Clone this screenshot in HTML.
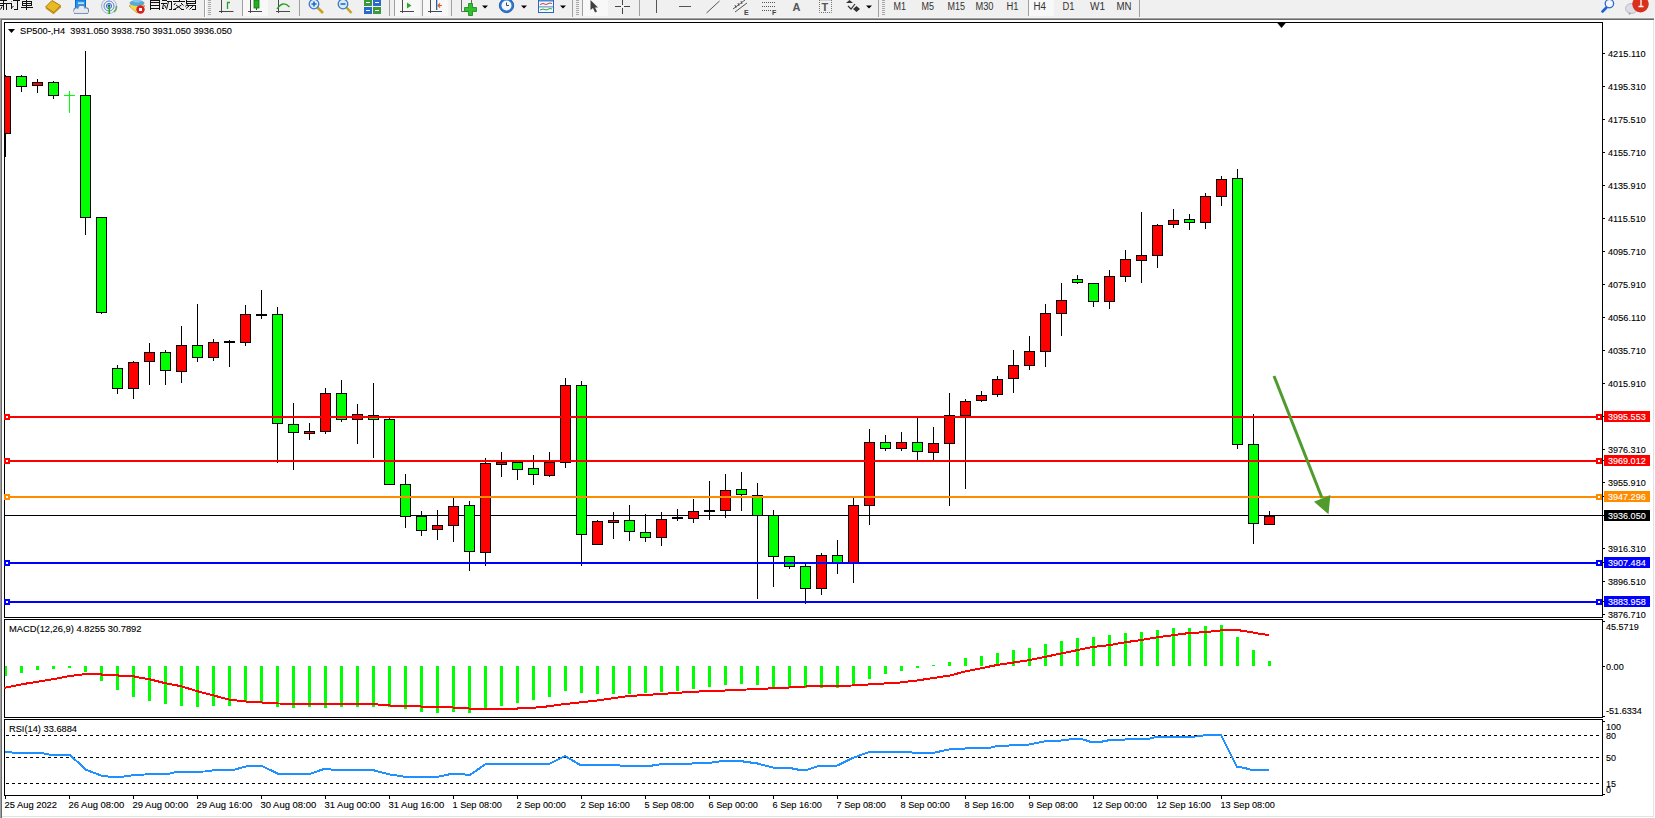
<!DOCTYPE html><html><head><meta charset="utf-8"><style>html,body{margin:0;padding:0;width:1655px;height:818px;overflow:hidden;background:#fff}svg{display:block}text{font-family:"Liberation Sans",sans-serif;font-size:10px}</style></head><body>
<svg width="1655" height="818" viewBox="0 0 1655 818">
<rect x="0" y="0" width="1655" height="18" fill="#F0F0F0"/>
<rect x="0" y="17" width="1655" height="1" fill="#F4F4F4"/>
<rect x="0" y="18" width="1654" height="1" fill="#A0A0A0"/>
<rect x="0" y="19" width="1654" height="1" fill="#696969"/>
<rect x="0" y="18" width="1" height="800" fill="#A0A0A0"/>
<rect x="1" y="19" width="1" height="799" fill="#696969"/>
<rect x="1653" y="20" width="1" height="797" fill="#E3E3E3"/>
<rect x="2" y="816" width="1652" height="1" fill="#E3E3E3"/>
<g id="toolbar">
<!-- chinese text approximations -->
<g fill="#111" shape-rendering="crispEdges">
<rect x="0" y="0" width="7" height="1"/><rect x="0" y="3" width="12" height="1"/><rect x="0" y="5" width="3" height="1"/>
<rect x="3" y="1" width="1" height="9"/><rect x="6" y="4" width="1" height="6"/><rect x="11" y="3" width="1" height="6"/>
<rect x="13" y="0" width="7" height="1"/><rect x="17" y="1" width="1" height="9"/><rect x="14" y="9" width="3" height="1"/>
<rect x="22" y="1" width="10" height="1"/><rect x="22" y="3" width="10" height="1"/><rect x="22" y="5" width="10" height="1"/>
<rect x="22" y="1" width="1" height="5"/><rect x="31" y="1" width="1" height="5"/><rect x="26" y="0" width="1" height="10"/>
<rect x="21" y="7" width="12" height="1"/>
<rect x="150" y="0" width="1" height="10"/><rect x="159" y="0" width="1" height="10"/>
<rect x="151" y="0" width="8" height="1"/><rect x="151" y="2" width="8" height="1"/><rect x="151" y="5" width="8" height="1"/><rect x="151" y="8" width="8" height="1"/>
<rect x="162" y="0" width="5" height="1"/><rect x="161" y="3" width="6" height="1"/><rect x="162" y="8" width="2" height="1"/>
<rect x="167" y="1" width="5" height="1"/><rect x="171" y="1" width="1" height="9"/><rect x="169" y="9" width="2" height="1"/>
<rect x="173" y="1" width="12" height="1"/><rect x="179" y="0" width="1" height="1"/><rect x="173" y="9" width="3" height="1"/><rect x="181" y="9" width="3" height="1"/>
<rect x="186" y="0" width="1" height="4"/><rect x="195" y="0" width="1" height="4"/><rect x="187" y="1" width="8" height="1"/><rect x="187" y="3" width="8" height="1"/>
<rect x="187" y="5" width="9" height="1"/><rect x="195" y="5" width="1" height="5"/><rect x="192" y="9" width="3" height="1"/>
</g>
<g fill="none" stroke="#111" stroke-width="1">
<path d="M2,6.5 L0.5,9.5 M11.5,8 L13.5,6 M11.5,1.5 L12,2"/>
<path d="M163.5,4 L162.5,8.5 M164.5,5 L166,8 M168.5,1.5 L166.5,9.5"/>
<path d="M175.5,3 L174,5 M181,3 L183.5,5.5 M176,5 L182,9.5 M181.5,5 L174,9.5"/>
<path d="M187.5,4 L185.5,6.5 M189,6 L186,8.5 M193,6 L189.5,9.5"/>
</g>
<!-- book icon -->
<path d="M45.5,7 L52,0.5 L60.5,5.5 L54,12.5 Z" fill="#E8B923" stroke="#A87A10" stroke-width="1"/>
<path d="M46,8 L53.5,13.5 L61,6.5" fill="none" stroke="#C28E1C" stroke-width="1.2"/>
<!-- blue doc + cloud -->
<rect x="75.5" y="0" width="10" height="8" fill="#2196F3" stroke="#1565C0" stroke-width="1"/>
<rect x="78" y="2.5" width="6" height="1.2" fill="#fff"/>
<g stroke="#6F85A8" stroke-width="1.1" fill="#E4EAF2">
<circle cx="76.5" cy="10.5" r="2.6"/><circle cx="81.5" cy="9" r="3.6"/><circle cx="85.8" cy="10.6" r="2.7"/>
<rect x="74" y="10.5" width="14" height="3" stroke="none"/>
<path d="M74,13.3 H88" fill="none"/>
</g>
<g fill="#E4EAF2"><circle cx="76.5" cy="10.5" r="2"/><circle cx="81.5" cy="9" r="3"/><circle cx="85.8" cy="10.6" r="2.1"/><rect x="75" y="9.5" width="12" height="3.3"/></g>
<!-- radio icon -->
<g fill="none" stroke-width="1">
<circle cx="109" cy="6" r="7.5" stroke="#9CB5DC"/>
<circle cx="109" cy="6" r="5" stroke="#5A86D0"/>
<circle cx="109" cy="6" r="2.6" stroke="#3B6CC8"/>
<path d="M114,12 A7.5,7.5 0 0 0 116.5,6" stroke="#5DAA5D" stroke-width="1.5"/>
</g>
<circle cx="109" cy="6" r="1.4" fill="#1E50C0"/>
<rect x="108.5" y="6" width="1.5" height="8" fill="#1FAA1F"/>
<!-- expert hat icon -->
<path d="M129,6 L137,13 L145,6 L142,4 L132,4 Z" fill="#F0D850" stroke="#C8A020" stroke-width="0.8"/>
<ellipse cx="137" cy="3" rx="7.5" ry="3" fill="#58A8D8"/>
<ellipse cx="137" cy="0.5" rx="4" ry="2" fill="#80C8F0"/>
<circle cx="140.5" cy="9.5" r="4.2" fill="#D82020"/>
<rect x="139" y="8" width="3" height="3" fill="#fff"/>
<!-- separators -->
<g shape-rendering="crispEdges">
<rect x="204" y="0" width="1" height="17" fill="#A0A0A0"/><rect x="205" y="0" width="1" height="17" fill="#FFFFFF"/>
<rect x="208" y="0" width="3" height="15" fill="url(#grip)"/>
<rect x="243" y="0" width="25" height="16" fill="#F8F8F8"/>
<rect x="242" y="0" width="1" height="16" fill="#A0A0A0"/>
<rect x="299" y="0" width="1" height="16" fill="#A0A0A0"/>
<rect x="389" y="0" width="1" height="16" fill="#A0A0A0"/>
<rect x="394" y="0" width="1" height="16" fill="#A0A0A0"/>
<rect x="395" y="0" width="25" height="16" fill="#F8F8F8"/>
<rect x="422" y="0" width="1" height="16" fill="#A0A0A0"/>
<rect x="423" y="0" width="25" height="16" fill="#F8F8F8"/>
<rect x="451" y="0" width="1" height="16" fill="#A0A0A0"/>
<rect x="572" y="0" width="1" height="17" fill="#A0A0A0"/>
<rect x="576" y="0" width="3" height="15" fill="url(#grip)"/>
<rect x="582" y="0" width="1" height="16" fill="#A0A0A0"/>
<rect x="583" y="0" width="25" height="16" fill="#F8F8F8"/>
<rect x="639" y="0" width="1" height="16" fill="#A0A0A0"/>
<rect x="878" y="0" width="1" height="17" fill="#A0A0A0"/>
<rect x="882" y="0" width="3" height="15" fill="url(#grip)"/>
<rect x="1028" y="0" width="1" height="16" fill="#A0A0A0"/>
<rect x="1029" y="0" width="25" height="16" fill="#F8F8F8"/>
<rect x="1139" y="0" width="1" height="17" fill="#A0A0A0"/>
</g>
<defs><pattern id="grip" x="0" y="0" width="3" height="2" patternUnits="userSpaceOnUse"><rect x="0" y="0" width="3" height="1" fill="#A8A8A8"/></pattern></defs>
<!-- chart type icons -->
<g fill="none" stroke="#4A4A4A" stroke-width="1" shape-rendering="crispEdges">
<path d="M221.5,0V13 M219,11.5H233"/>
<path d="M250.5,0V13 M248,11.5H262"/>
<path d="M278.5,0V13 M276,11.5H290"/>
<path d="M402.5,0V13 M400,11.5H414"/>
<path d="M430.5,0V13 M428,11.5H442"/>
</g>
<g fill="none" stroke="#3A3A3A" stroke-width="0.8">
<path d="M219.5,11.5L223.5,11.5 M241,11.5 M231.5,11.5 L233.5,11.5"/>
</g>
<path d="M227.5,9V2.5H230" fill="none" stroke="#2AA02A" stroke-width="1.3"/>
<rect x="254" y="0" width="5" height="8" fill="#22B022" stroke="#127012" stroke-width="0.8"/>
<rect x="256" y="8" width="1" height="2" fill="#127012"/>
<path d="M277,9 Q283,0 289.5,7" fill="none" stroke="#22A022" stroke-width="1.3"/>
<path d="M407,2.5 L411.5,5.5 L407,8.5 Z" fill="#22B022"/>
<rect x="436" y="0" width="1.3" height="10" fill="#2060B0"/>
<path d="M442,5.5H438.5 M440,3.5L438,5.5L440,7.5" fill="none" stroke="#E06020" stroke-width="1.2"/>
<!-- zoom icons -->
<g>
<line x1="317" y1="7" x2="323" y2="13" stroke="#C8A020" stroke-width="2.5"/>
<circle cx="314" cy="4" r="4.8" fill="#D8ECF8" stroke="#3A78C8" stroke-width="1.3"/>
<path d="M311.5,4H316.5 M314,1.5V6.5" stroke="#2A68C0" stroke-width="1.6"/>
<line x1="346" y1="7" x2="351.5" y2="13" stroke="#C8A020" stroke-width="2.5"/>
<circle cx="343" cy="4" r="4.8" fill="#D8ECF8" stroke="#3A78C8" stroke-width="1.3"/>
<path d="M340.5,4H345.5" stroke="#2A68C0" stroke-width="1.6"/>
</g>
<!-- tile windows -->
<g shape-rendering="crispEdges">
<rect x="364" y="0" width="8" height="6" fill="#3A9A3A"/><rect x="373" y="0" width="8" height="6" fill="#2A6AC8"/>
<rect x="364" y="7" width="8" height="7" fill="#2A6AC8"/><rect x="373" y="7" width="8" height="7" fill="#3A9A3A"/>
<rect x="366" y="2" width="4" height="1" fill="#fff"/><rect x="375" y="2" width="4" height="1" fill="#fff"/>
<rect x="366" y="10" width="4" height="1" fill="#fff"/><rect x="375" y="10" width="4" height="1" fill="#fff"/>
</g>
<!-- indicators -->
<path d="M461.5,0V11.5H468 M471.5,0V4" fill="none" stroke="#6A6A6A" stroke-width="1"/>
<path d="M468.5,3.5H472.5V7.5H476.5V11.5H472.5V15.5H468.5V11.5H464.5V7.5H468.5Z" fill="#30C030" stroke="#1A801A" stroke-width="0.8"/>
<path d="M482,5.5H488L485,8.5Z" fill="#000"/>
<!-- clock -->
<circle cx="506.5" cy="5.5" r="7.2" fill="#2A78D0" stroke="#1A50A0" stroke-width="0.8"/>
<circle cx="506.5" cy="5.5" r="5" fill="#F4F8FC"/>
<path d="M506.5,2.5V5.5H509" fill="none" stroke="#333" stroke-width="0.9"/>
<path d="M521,5.5H527L524,8.5Z" fill="#000"/>
<!-- templates -->
<rect x="538.5" y="0" width="15" height="12.5" fill="#F4F8FC" stroke="#2A68C0" stroke-width="1"/>
<rect x="539" y="0" width="14" height="1.5" fill="#4A88D8"/>
<path d="M540,4.5 L543,3.5 L546,4.5 L550,3 L552,3.5" fill="none" stroke="#C03020" stroke-width="0.9"/>
<rect x="539" y="6.5" width="14" height="0.8" fill="#2A68C0"/>
<path d="M540,10 L543,9 L546,10 L550,8.5 L552,9" fill="none" stroke="#20A020" stroke-width="0.9"/>
<path d="M560,5.5H566L563,8.5Z" fill="#000"/>
<!-- cursor -->
<path d="M590.5,0 L590.5,10 L593,8 L595,12.5 L597,11.5 L595,7.5 L598,7.5 Z" fill="#404040"/>
<!-- crosshair -->
<path d="M615,6.5H630 M622.5,0V14" stroke="#444" stroke-width="1" fill="none" shape-rendering="crispEdges"/>
<rect x="621" y="5" width="3" height="3" fill="#F0F0F0"/>
<!-- lines -->
<g stroke="#555" stroke-width="1" fill="none" shape-rendering="crispEdges">
<path d="M656.5,0V13 M679,6.5H691"/>
</g>
<path d="M706.5,13 L719.5,1" stroke="#555" stroke-width="1" fill="none"/>
<path d="M733,9 L745,0 M735,12 L747,3 M735,5L736,8 M738,3L739,6 M741,1L742,4" stroke="#555" stroke-width="1" fill="none"/>
<text x="744" y="15" font-size="7" font-weight="bold" fill="#444" style="font-size:7px;font-weight:bold">E</text>
<g fill="#555" shape-rendering="crispEdges">
<rect x="762" y="2" width="14" height="1" fill="url(#dots)"/>
<rect x="762" y="6" width="14" height="1" fill="url(#dots)"/>
<rect x="762" y="10" width="10" height="1" fill="url(#dots)"/>
</g>
<defs><pattern id="dots" x="0" y="0" width="2" height="1" patternUnits="userSpaceOnUse"><rect x="0" y="0" width="1" height="1" fill="#555"/></pattern></defs>
<text x="772" y="15" font-size="7" font-weight="bold" fill="#444" style="font-size:7px;font-weight:bold">F</text>
<text x="792.5" y="10.5" fill="#555" style="font-size:11px;font-weight:bold">A</text>
<rect x="819.5" y="0" width="12" height="12.5" fill="none" stroke="#777" stroke-width="1" stroke-dasharray="1,1"/>
<text x="821.5" y="10.5" fill="#555" style="font-size:11px;font-weight:bold">T</text>
<path d="M846,3 L849.5,0 L853,3 Z M853,9 L856.5,6 L860,9 L856.5,12 Z" fill="#333"/>
<path d="M848,6 L851,9 L855,4" fill="none" stroke="#333" stroke-width="1.2"/>
<path d="M866,5.5H872L869,8.5Z" fill="#000"/>
<!-- timeframes -->
<g fill="#333">
<text x="893.5" y="10" textLength="12.5" lengthAdjust="spacingAndGlyphs">M1</text>
<text x="921.5" y="10" textLength="12.5" lengthAdjust="spacingAndGlyphs">M5</text>
<text x="947.5" y="10" textLength="17.5" lengthAdjust="spacingAndGlyphs">M15</text>
<text x="975.5" y="10" textLength="18" lengthAdjust="spacingAndGlyphs">M30</text>
<text x="1006.5" y="10" textLength="12" lengthAdjust="spacingAndGlyphs">H1</text>
<text x="1033.5" y="10" textLength="12.5" lengthAdjust="spacingAndGlyphs">H4</text>
<text x="1062.5" y="10" textLength="12" lengthAdjust="spacingAndGlyphs">D1</text>
<text x="1090" y="10" textLength="15" lengthAdjust="spacingAndGlyphs">W1</text>
<text x="1116.5" y="10" textLength="15" lengthAdjust="spacingAndGlyphs">MN</text>
</g>
<!-- search -->
<line x1="1606.5" y1="7.5" x2="1602.5" y2="11.5" stroke="#2060D0" stroke-width="2.6" stroke-linecap="round"/>
<circle cx="1609.4" cy="3.6" r="4.2" fill="#F4F6FA" stroke="#2868D8" stroke-width="1.3"/>
<!-- bubble + badge -->
<ellipse cx="1631.5" cy="8.5" rx="6" ry="5" fill="#DCDCE6" stroke="#B0B0B8" stroke-width="0.8"/>
<path d="M1628.5,12.5 L1629,15 L1631.5,13" fill="#A0A0A0"/>
<circle cx="1640.5" cy="4.2" r="8.2" fill="#D8301C"/>
<path d="M1638.5,-1 L1641,-2 V6.5 M1638.5,6.5H1643.5" stroke="#fff" stroke-width="1.3" fill="none"/>
</g>

<g shape-rendering="crispEdges">
<rect x="4" y="22" width="1599" height="1" fill="#000"/>
<rect x="4" y="617" width="1599" height="1" fill="#000"/>
<rect x="4" y="22" width="1" height="596" fill="#000"/>
<rect x="1602" y="22" width="1" height="596" fill="#000"/>
<rect x="4" y="619" width="1599" height="1" fill="#000"/>
<rect x="4" y="717" width="1599" height="1" fill="#000"/>
<rect x="4" y="619" width="1" height="99" fill="#000"/>
<rect x="1602" y="619" width="1" height="99" fill="#000"/>
<rect x="4" y="719" width="1599" height="1" fill="#000"/>
<rect x="4" y="795" width="1599" height="1" fill="#000"/>
<rect x="4" y="719" width="1" height="77" fill="#000"/>
<rect x="1602" y="719" width="1" height="77" fill="#000"/>
</g>
<polygon points="1276.5,22 1286.5,22 1281.5,28" fill="#000"/>
<g shape-rendering="crispEdges">
<line x1="6" y1="735.5" x2="1601" y2="735.5" stroke="#000" stroke-width="1" stroke-dasharray="3,3"/>
<line x1="6" y1="757.5" x2="1601" y2="757.5" stroke="#000" stroke-width="1" stroke-dasharray="3,3"/>
<line x1="6" y1="783.5" x2="1601" y2="783.5" stroke="#000" stroke-width="1" stroke-dasharray="3,3"/>
<rect x="5" y="515" width="1597" height="1" fill="#000"/>
<rect x="5" y="75" width="1" height="82" fill="#000"/>
<rect x="5" y="76" width="6" height="58" fill="#000"/>
<rect x="5" y="77" width="5" height="56" fill="#FF0000"/>
<rect x="21" y="75" width="1" height="17" fill="#000"/>
<rect x="16" y="76" width="11" height="11" fill="#000"/>
<rect x="17" y="77" width="9" height="9" fill="#00FF00"/>
<rect x="37" y="79" width="1" height="14" fill="#000"/>
<rect x="32" y="82" width="11" height="4" fill="#000"/>
<rect x="33" y="83" width="9" height="2" fill="#FF0000"/>
<rect x="53" y="81" width="1" height="18" fill="#000"/>
<rect x="48" y="82" width="11" height="14" fill="#000"/>
<rect x="49" y="83" width="9" height="12" fill="#00FF00"/>
<rect x="69" y="91" width="1" height="22" fill="#00FF00"/>
<rect x="64" y="95" width="11" height="1" fill="#00FF00"/>
<rect x="85" y="51" width="1" height="184" fill="#000"/>
<rect x="80" y="95" width="11" height="123" fill="#000"/>
<rect x="81" y="96" width="9" height="121" fill="#00FF00"/>
<rect x="101" y="217" width="1" height="97" fill="#000"/>
<rect x="96" y="217" width="11" height="96" fill="#000"/>
<rect x="97" y="218" width="9" height="94" fill="#00FF00"/>
<rect x="117" y="365" width="1" height="29" fill="#000"/>
<rect x="112" y="368" width="11" height="21" fill="#000"/>
<rect x="113" y="369" width="9" height="19" fill="#00FF00"/>
<rect x="133" y="361" width="1" height="38" fill="#000"/>
<rect x="128" y="362" width="11" height="27" fill="#000"/>
<rect x="129" y="363" width="9" height="25" fill="#FF0000"/>
<rect x="149" y="343" width="1" height="42" fill="#000"/>
<rect x="144" y="352" width="11" height="10" fill="#000"/>
<rect x="145" y="353" width="9" height="8" fill="#FF0000"/>
<rect x="165" y="350" width="1" height="35" fill="#000"/>
<rect x="160" y="352" width="11" height="19" fill="#000"/>
<rect x="161" y="353" width="9" height="17" fill="#00FF00"/>
<rect x="181" y="326" width="1" height="57" fill="#000"/>
<rect x="176" y="345" width="11" height="27" fill="#000"/>
<rect x="177" y="346" width="9" height="25" fill="#FF0000"/>
<rect x="197" y="304" width="1" height="58" fill="#000"/>
<rect x="192" y="345" width="11" height="13" fill="#000"/>
<rect x="193" y="346" width="9" height="11" fill="#00FF00"/>
<rect x="213" y="339" width="1" height="22" fill="#000"/>
<rect x="208" y="342" width="11" height="16" fill="#000"/>
<rect x="209" y="343" width="9" height="14" fill="#FF0000"/>
<rect x="229" y="340" width="1" height="27" fill="#000"/>
<rect x="224" y="341" width="11" height="2" fill="#000"/>
<rect x="245" y="305" width="1" height="41" fill="#000"/>
<rect x="240" y="314" width="11" height="29" fill="#000"/>
<rect x="241" y="315" width="9" height="27" fill="#FF0000"/>
<rect x="261" y="290" width="1" height="29" fill="#000"/>
<rect x="256" y="314" width="11" height="2" fill="#000"/>
<rect x="277" y="307" width="1" height="156" fill="#000"/>
<rect x="272" y="314" width="11" height="110" fill="#000"/>
<rect x="273" y="315" width="9" height="108" fill="#00FF00"/>
<rect x="293" y="403" width="1" height="67" fill="#000"/>
<rect x="288" y="424" width="11" height="9" fill="#000"/>
<rect x="289" y="425" width="9" height="7" fill="#00FF00"/>
<rect x="309" y="423" width="1" height="17" fill="#000"/>
<rect x="304" y="431" width="11" height="3" fill="#000"/>
<rect x="305" y="432" width="9" height="1" fill="#FF0000"/>
<rect x="325" y="388" width="1" height="46" fill="#000"/>
<rect x="320" y="393" width="11" height="39" fill="#000"/>
<rect x="321" y="394" width="9" height="37" fill="#FF0000"/>
<rect x="341" y="380" width="1" height="42" fill="#000"/>
<rect x="336" y="393" width="11" height="27" fill="#000"/>
<rect x="337" y="394" width="9" height="25" fill="#00FF00"/>
<rect x="357" y="404" width="1" height="40" fill="#000"/>
<rect x="352" y="414" width="11" height="6" fill="#000"/>
<rect x="353" y="415" width="9" height="4" fill="#FF0000"/>
<rect x="373" y="383" width="1" height="75" fill="#000"/>
<rect x="368" y="415" width="11" height="5" fill="#000"/>
<rect x="369" y="416" width="9" height="3" fill="#00FF00"/>
<rect x="389" y="418" width="1" height="67" fill="#000"/>
<rect x="384" y="419" width="11" height="66" fill="#000"/>
<rect x="385" y="420" width="9" height="64" fill="#00FF00"/>
<rect x="405" y="474" width="1" height="54" fill="#000"/>
<rect x="400" y="484" width="11" height="33" fill="#000"/>
<rect x="401" y="485" width="9" height="31" fill="#00FF00"/>
<rect x="421" y="511" width="1" height="25" fill="#000"/>
<rect x="416" y="516" width="11" height="15" fill="#000"/>
<rect x="417" y="517" width="9" height="13" fill="#00FF00"/>
<rect x="437" y="510" width="1" height="30" fill="#000"/>
<rect x="432" y="525" width="11" height="5" fill="#000"/>
<rect x="433" y="526" width="9" height="3" fill="#FF0000"/>
<rect x="453" y="498" width="1" height="44" fill="#000"/>
<rect x="448" y="506" width="11" height="20" fill="#000"/>
<rect x="449" y="507" width="9" height="18" fill="#FF0000"/>
<rect x="469" y="501" width="1" height="70" fill="#000"/>
<rect x="464" y="505" width="11" height="47" fill="#000"/>
<rect x="465" y="506" width="9" height="45" fill="#00FF00"/>
<rect x="485" y="458" width="1" height="108" fill="#000"/>
<rect x="480" y="463" width="11" height="90" fill="#000"/>
<rect x="481" y="464" width="9" height="88" fill="#FF0000"/>
<rect x="501" y="452" width="1" height="25" fill="#000"/>
<rect x="496" y="462" width="11" height="3" fill="#000"/>
<rect x="497" y="463" width="9" height="1" fill="#FF0000"/>
<rect x="517" y="462" width="1" height="18" fill="#000"/>
<rect x="512" y="462" width="11" height="8" fill="#000"/>
<rect x="513" y="463" width="9" height="6" fill="#00FF00"/>
<rect x="533" y="455" width="1" height="30" fill="#000"/>
<rect x="528" y="468" width="11" height="7" fill="#000"/>
<rect x="529" y="469" width="9" height="5" fill="#00FF00"/>
<rect x="549" y="452" width="1" height="25" fill="#000"/>
<rect x="544" y="462" width="11" height="14" fill="#000"/>
<rect x="545" y="463" width="9" height="12" fill="#FF0000"/>
<rect x="565" y="378" width="1" height="90" fill="#000"/>
<rect x="560" y="385" width="11" height="78" fill="#000"/>
<rect x="561" y="386" width="9" height="76" fill="#FF0000"/>
<rect x="581" y="381" width="1" height="185" fill="#000"/>
<rect x="576" y="385" width="11" height="150" fill="#000"/>
<rect x="577" y="386" width="9" height="148" fill="#00FF00"/>
<rect x="597" y="520" width="1" height="25" fill="#000"/>
<rect x="592" y="521" width="11" height="24" fill="#000"/>
<rect x="593" y="522" width="9" height="22" fill="#FF0000"/>
<rect x="613" y="512" width="1" height="27" fill="#000"/>
<rect x="608" y="520" width="11" height="3" fill="#000"/>
<rect x="609" y="521" width="9" height="1" fill="#FF0000"/>
<rect x="629" y="505" width="1" height="36" fill="#000"/>
<rect x="624" y="520" width="11" height="12" fill="#000"/>
<rect x="625" y="521" width="9" height="10" fill="#00FF00"/>
<rect x="645" y="514" width="1" height="28" fill="#000"/>
<rect x="640" y="532" width="11" height="6" fill="#000"/>
<rect x="641" y="533" width="9" height="4" fill="#00FF00"/>
<rect x="661" y="512" width="1" height="34" fill="#000"/>
<rect x="656" y="519" width="11" height="19" fill="#000"/>
<rect x="657" y="520" width="9" height="17" fill="#FF0000"/>
<rect x="677" y="509" width="1" height="12" fill="#000"/>
<rect x="672" y="517" width="11" height="2" fill="#000"/>
<rect x="693" y="499" width="1" height="24" fill="#000"/>
<rect x="688" y="511" width="11" height="8" fill="#000"/>
<rect x="689" y="512" width="9" height="6" fill="#FF0000"/>
<rect x="709" y="481" width="1" height="39" fill="#000"/>
<rect x="704" y="510" width="11" height="2" fill="#000"/>
<rect x="725" y="474" width="1" height="44" fill="#000"/>
<rect x="720" y="490" width="11" height="21" fill="#000"/>
<rect x="721" y="491" width="9" height="19" fill="#FF0000"/>
<rect x="741" y="472" width="1" height="39" fill="#000"/>
<rect x="736" y="489" width="11" height="6" fill="#000"/>
<rect x="737" y="490" width="9" height="4" fill="#00FF00"/>
<rect x="757" y="483" width="1" height="116" fill="#000"/>
<rect x="752" y="495" width="11" height="21" fill="#000"/>
<rect x="753" y="496" width="9" height="19" fill="#00FF00"/>
<rect x="773" y="510" width="1" height="77" fill="#000"/>
<rect x="768" y="515" width="11" height="42" fill="#000"/>
<rect x="769" y="516" width="9" height="40" fill="#00FF00"/>
<rect x="789" y="556" width="1" height="13" fill="#000"/>
<rect x="784" y="556" width="11" height="11" fill="#000"/>
<rect x="785" y="557" width="9" height="9" fill="#00FF00"/>
<rect x="805" y="564" width="1" height="40" fill="#000"/>
<rect x="800" y="566" width="11" height="23" fill="#000"/>
<rect x="801" y="567" width="9" height="21" fill="#00FF00"/>
<rect x="821" y="553" width="1" height="42" fill="#000"/>
<rect x="816" y="555" width="11" height="34" fill="#000"/>
<rect x="817" y="556" width="9" height="32" fill="#FF0000"/>
<rect x="837" y="540" width="1" height="34" fill="#000"/>
<rect x="832" y="555" width="11" height="8" fill="#000"/>
<rect x="833" y="556" width="9" height="6" fill="#00FF00"/>
<rect x="853" y="498" width="1" height="85" fill="#000"/>
<rect x="848" y="505" width="11" height="58" fill="#000"/>
<rect x="849" y="506" width="9" height="56" fill="#FF0000"/>
<rect x="869" y="429" width="1" height="96" fill="#000"/>
<rect x="864" y="442" width="11" height="64" fill="#000"/>
<rect x="865" y="443" width="9" height="62" fill="#FF0000"/>
<rect x="885" y="435" width="1" height="16" fill="#000"/>
<rect x="880" y="442" width="11" height="7" fill="#000"/>
<rect x="881" y="443" width="9" height="5" fill="#00FF00"/>
<rect x="901" y="432" width="1" height="19" fill="#000"/>
<rect x="896" y="442" width="11" height="7" fill="#000"/>
<rect x="897" y="443" width="9" height="5" fill="#FF0000"/>
<rect x="917" y="418" width="1" height="43" fill="#000"/>
<rect x="912" y="442" width="11" height="10" fill="#000"/>
<rect x="913" y="443" width="9" height="8" fill="#00FF00"/>
<rect x="933" y="427" width="1" height="34" fill="#000"/>
<rect x="928" y="443" width="11" height="10" fill="#000"/>
<rect x="929" y="444" width="9" height="8" fill="#FF0000"/>
<rect x="949" y="393" width="1" height="113" fill="#000"/>
<rect x="944" y="415" width="11" height="29" fill="#000"/>
<rect x="945" y="416" width="9" height="27" fill="#FF0000"/>
<rect x="965" y="399" width="1" height="90" fill="#000"/>
<rect x="960" y="401" width="11" height="15" fill="#000"/>
<rect x="961" y="402" width="9" height="13" fill="#FF0000"/>
<rect x="981" y="391" width="1" height="11" fill="#000"/>
<rect x="976" y="395" width="11" height="6" fill="#000"/>
<rect x="977" y="396" width="9" height="4" fill="#FF0000"/>
<rect x="997" y="376" width="1" height="21" fill="#000"/>
<rect x="992" y="379" width="11" height="16" fill="#000"/>
<rect x="993" y="380" width="9" height="14" fill="#FF0000"/>
<rect x="1013" y="350" width="1" height="43" fill="#000"/>
<rect x="1008" y="365" width="11" height="14" fill="#000"/>
<rect x="1009" y="366" width="9" height="12" fill="#FF0000"/>
<rect x="1029" y="336" width="1" height="34" fill="#000"/>
<rect x="1024" y="351" width="11" height="15" fill="#000"/>
<rect x="1025" y="352" width="9" height="13" fill="#FF0000"/>
<rect x="1045" y="304" width="1" height="63" fill="#000"/>
<rect x="1040" y="313" width="11" height="39" fill="#000"/>
<rect x="1041" y="314" width="9" height="37" fill="#FF0000"/>
<rect x="1061" y="283" width="1" height="53" fill="#000"/>
<rect x="1056" y="300" width="11" height="14" fill="#000"/>
<rect x="1057" y="301" width="9" height="12" fill="#FF0000"/>
<rect x="1077" y="275" width="1" height="9" fill="#000"/>
<rect x="1072" y="279" width="11" height="4" fill="#000"/>
<rect x="1073" y="280" width="9" height="2" fill="#00FF00"/>
<rect x="1093" y="283" width="1" height="24" fill="#000"/>
<rect x="1088" y="283" width="11" height="19" fill="#000"/>
<rect x="1089" y="284" width="9" height="17" fill="#00FF00"/>
<rect x="1109" y="270" width="1" height="39" fill="#000"/>
<rect x="1104" y="276" width="11" height="26" fill="#000"/>
<rect x="1105" y="277" width="9" height="24" fill="#FF0000"/>
<rect x="1125" y="250" width="1" height="32" fill="#000"/>
<rect x="1120" y="259" width="11" height="18" fill="#000"/>
<rect x="1121" y="260" width="9" height="16" fill="#FF0000"/>
<rect x="1141" y="212" width="1" height="71" fill="#000"/>
<rect x="1136" y="255" width="11" height="6" fill="#000"/>
<rect x="1137" y="256" width="9" height="4" fill="#FF0000"/>
<rect x="1157" y="224" width="1" height="44" fill="#000"/>
<rect x="1152" y="225" width="11" height="31" fill="#000"/>
<rect x="1153" y="226" width="9" height="29" fill="#FF0000"/>
<rect x="1173" y="209" width="1" height="19" fill="#000"/>
<rect x="1168" y="220" width="11" height="5" fill="#000"/>
<rect x="1169" y="221" width="9" height="3" fill="#FF0000"/>
<rect x="1189" y="214" width="1" height="16" fill="#000"/>
<rect x="1184" y="219" width="11" height="4" fill="#000"/>
<rect x="1185" y="220" width="9" height="2" fill="#00FF00"/>
<rect x="1205" y="193" width="1" height="36" fill="#000"/>
<rect x="1200" y="196" width="11" height="27" fill="#000"/>
<rect x="1201" y="197" width="9" height="25" fill="#FF0000"/>
<rect x="1221" y="176" width="1" height="30" fill="#000"/>
<rect x="1216" y="179" width="11" height="18" fill="#000"/>
<rect x="1217" y="180" width="9" height="16" fill="#FF0000"/>
<rect x="1237" y="169" width="1" height="280" fill="#000"/>
<rect x="1232" y="178" width="11" height="267" fill="#000"/>
<rect x="1233" y="179" width="9" height="265" fill="#00FF00"/>
<rect x="1253" y="414" width="1" height="130" fill="#000"/>
<rect x="1248" y="444" width="11" height="80" fill="#000"/>
<rect x="1249" y="445" width="9" height="78" fill="#00FF00"/>
<rect x="1269" y="511" width="1" height="14" fill="#000"/>
<rect x="1264" y="516" width="11" height="9" fill="#000"/>
<rect x="1265" y="517" width="9" height="7" fill="#FF0000"/>
<rect x="5" y="416" width="1597" height="2" fill="#FF0000"/>
<rect x="5" y="460" width="1597" height="2" fill="#FF0000"/>
<rect x="5" y="496" width="1597" height="2" fill="#FF8C00"/>
<rect x="5" y="562" width="1597" height="2" fill="#0000FF"/>
<rect x="5" y="601" width="1597" height="2" fill="#0000FF"/>
<rect x="4" y="414" width="6" height="6" fill="#FF0000"/>
<rect x="6" y="416" width="2" height="2" fill="#fff"/>
<rect x="1596" y="414" width="6" height="6" fill="#FF0000"/>
<rect x="1598" y="416" width="2" height="2" fill="#fff"/>
<rect x="4" y="458" width="6" height="6" fill="#FF0000"/>
<rect x="6" y="460" width="2" height="2" fill="#fff"/>
<rect x="1596" y="458" width="6" height="6" fill="#FF0000"/>
<rect x="1598" y="460" width="2" height="2" fill="#fff"/>
<rect x="4" y="494" width="6" height="6" fill="#FF8C00"/>
<rect x="6" y="496" width="2" height="2" fill="#fff"/>
<rect x="1596" y="494" width="6" height="6" fill="#FF8C00"/>
<rect x="1598" y="496" width="2" height="2" fill="#fff"/>
<rect x="4" y="560" width="6" height="6" fill="#0000FF"/>
<rect x="6" y="562" width="2" height="2" fill="#fff"/>
<rect x="1596" y="560" width="6" height="6" fill="#0000FF"/>
<rect x="1598" y="562" width="2" height="2" fill="#fff"/>
<rect x="4" y="599" width="6" height="6" fill="#0000FF"/>
<rect x="6" y="601" width="2" height="2" fill="#fff"/>
<rect x="1596" y="599" width="6" height="6" fill="#0000FF"/>
<rect x="1598" y="601" width="2" height="2" fill="#fff"/>
<rect x="5" y="666" width="2" height="10" fill="#00FF00"/>
<rect x="20" y="666" width="3" height="7" fill="#00FF00"/>
<rect x="36" y="666" width="3" height="4" fill="#00FF00"/>
<rect x="52" y="666" width="3" height="3" fill="#00FF00"/>
<rect x="68" y="666" width="3" height="2" fill="#00FF00"/>
<rect x="84" y="666" width="3" height="6" fill="#00FF00"/>
<rect x="100" y="666" width="3" height="15" fill="#00FF00"/>
<rect x="116" y="666" width="3" height="24" fill="#00FF00"/>
<rect x="132" y="666" width="3" height="31" fill="#00FF00"/>
<rect x="148" y="666" width="3" height="35" fill="#00FF00"/>
<rect x="164" y="666" width="3" height="38" fill="#00FF00"/>
<rect x="180" y="666" width="3" height="40" fill="#00FF00"/>
<rect x="196" y="666" width="3" height="41" fill="#00FF00"/>
<rect x="212" y="666" width="3" height="40" fill="#00FF00"/>
<rect x="228" y="666" width="3" height="40" fill="#00FF00"/>
<rect x="244" y="666" width="3" height="36" fill="#00FF00"/>
<rect x="260" y="666" width="3" height="36" fill="#00FF00"/>
<rect x="276" y="666" width="3" height="41" fill="#00FF00"/>
<rect x="292" y="666" width="3" height="42" fill="#00FF00"/>
<rect x="308" y="666" width="3" height="41" fill="#00FF00"/>
<rect x="324" y="666" width="3" height="42" fill="#00FF00"/>
<rect x="340" y="666" width="3" height="41" fill="#00FF00"/>
<rect x="356" y="666" width="3" height="41" fill="#00FF00"/>
<rect x="372" y="666" width="3" height="41" fill="#00FF00"/>
<rect x="388" y="666" width="3" height="41" fill="#00FF00"/>
<rect x="404" y="666" width="3" height="43" fill="#00FF00"/>
<rect x="420" y="666" width="3" height="46" fill="#00FF00"/>
<rect x="436" y="666" width="3" height="47" fill="#00FF00"/>
<rect x="452" y="666" width="3" height="46" fill="#00FF00"/>
<rect x="468" y="666" width="3" height="47" fill="#00FF00"/>
<rect x="484" y="666" width="3" height="43" fill="#00FF00"/>
<rect x="500" y="666" width="3" height="40" fill="#00FF00"/>
<rect x="516" y="666" width="3" height="37" fill="#00FF00"/>
<rect x="532" y="666" width="3" height="34" fill="#00FF00"/>
<rect x="548" y="666" width="3" height="31" fill="#00FF00"/>
<rect x="564" y="666" width="3" height="25" fill="#00FF00"/>
<rect x="580" y="666" width="3" height="27" fill="#00FF00"/>
<rect x="596" y="666" width="3" height="28" fill="#00FF00"/>
<rect x="612" y="666" width="3" height="28" fill="#00FF00"/>
<rect x="628" y="666" width="3" height="28" fill="#00FF00"/>
<rect x="644" y="666" width="3" height="27" fill="#00FF00"/>
<rect x="660" y="666" width="3" height="26" fill="#00FF00"/>
<rect x="676" y="666" width="3" height="25" fill="#00FF00"/>
<rect x="692" y="666" width="3" height="23" fill="#00FF00"/>
<rect x="708" y="666" width="3" height="21" fill="#00FF00"/>
<rect x="724" y="666" width="3" height="19" fill="#00FF00"/>
<rect x="740" y="666" width="3" height="18" fill="#00FF00"/>
<rect x="756" y="666" width="3" height="19" fill="#00FF00"/>
<rect x="772" y="666" width="3" height="21" fill="#00FF00"/>
<rect x="788" y="666" width="3" height="22" fill="#00FF00"/>
<rect x="804" y="666" width="3" height="22" fill="#00FF00"/>
<rect x="820" y="666" width="3" height="22" fill="#00FF00"/>
<rect x="836" y="666" width="3" height="22" fill="#00FF00"/>
<rect x="852" y="666" width="3" height="19" fill="#00FF00"/>
<rect x="868" y="666" width="3" height="13" fill="#00FF00"/>
<rect x="884" y="666" width="3" height="8" fill="#00FF00"/>
<rect x="900" y="666" width="3" height="5" fill="#00FF00"/>
<rect x="916" y="666" width="3" height="2" fill="#00FF00"/>
<rect x="932" y="665" width="3" height="1" fill="#00FF00"/>
<rect x="948" y="662" width="3" height="4" fill="#00FF00"/>
<rect x="964" y="658" width="3" height="8" fill="#00FF00"/>
<rect x="980" y="656" width="3" height="10" fill="#00FF00"/>
<rect x="996" y="653" width="3" height="13" fill="#00FF00"/>
<rect x="1012" y="650" width="3" height="16" fill="#00FF00"/>
<rect x="1028" y="648" width="3" height="18" fill="#00FF00"/>
<rect x="1044" y="644" width="3" height="22" fill="#00FF00"/>
<rect x="1060" y="641" width="3" height="25" fill="#00FF00"/>
<rect x="1076" y="638" width="3" height="28" fill="#00FF00"/>
<rect x="1092" y="637" width="3" height="29" fill="#00FF00"/>
<rect x="1108" y="635" width="3" height="31" fill="#00FF00"/>
<rect x="1124" y="633" width="3" height="33" fill="#00FF00"/>
<rect x="1140" y="632" width="3" height="34" fill="#00FF00"/>
<rect x="1156" y="630" width="3" height="36" fill="#00FF00"/>
<rect x="1172" y="628" width="3" height="38" fill="#00FF00"/>
<rect x="1188" y="628" width="3" height="38" fill="#00FF00"/>
<rect x="1204" y="626" width="3" height="40" fill="#00FF00"/>
<rect x="1220" y="625" width="3" height="41" fill="#00FF00"/>
<rect x="1236" y="637" width="3" height="29" fill="#00FF00"/>
<rect x="1252" y="650" width="3" height="16" fill="#00FF00"/>
<rect x="1268" y="661" width="3" height="5" fill="#00FF00"/>
</g>
<polyline points="4,688 25,683.75 50,679.75 70,676 87.5,673.75 100,673.75 102,674.75 117,675 119,675.75 132.5,676 137.5,677.25 150,679.4 165,683.1 180,686 197.5,691.25 207,693.75 230,699.75 246,701.5 277.5,703.5 372.5,704 390,705.5 405,706 421,706.5 452.5,707.5 469,708.5 517.5,708.5 541,707.25 565,704 597.5,700.5 628.75,696 661,694 692.5,691.75 725,690.5 757.5,689 789,687.5 814,686 852,685.5 900,682.5 917,680.5 950,675.5 965,671.5 997,665 1030,660 1061,653.5 1092.5,647 1110,645.1 1125,642.25 1141,640.1 1157.5,637.25 1174,635.1 1190,632.9 1205,632.25 1221,630.4 1237.5,630 1245,631.25 1254,632.6 1261,634.1 1269,635" fill="none" stroke="#FF0000" stroke-width="2" shape-rendering="crispEdges"/>
<polyline points="5,751.75 14,752.75 41,753 50,754.75 70,755 86,769.75 102.5,776 117.5,777.5 134,775 150,774.25 170,773.5 177.5,771.75 205,771.5 215,770 234,769.75 247.5,766 261,765.5 277.5,773.5 311,773.5 324,769 334,769.75 372.5,770 390,774.5 405,776.75 437.5,776.75 451,774 460,774 470,775 486,763.75 517.5,764.25 540,764.25 550,763.5 565,756 581,765.5 597.5,765 620,765.5 652.5,765.5 662.5,764 692.5,763.5 712.5,762.5 722.5,761 740,761 757.5,763.5 772.5,767.5 790,768 800,770 807.5,769.75 818.75,766 837.5,765.5 852.5,758 870,751.75 901,752.25 932.5,753 950,749.25 965,748.5 988.75,748 997.5,746 1027.5,744.75 1045,741.25 1061,740.5 1075,738.75 1081,738.75 1091,742 1100,742 1110,740 1125,739.5 1150,738.5 1157.5,736.75 1197,736.5 1205.6,735 1221,735 1237,766.75 1245,768 1249.4,769.5 1269.4,769.9" fill="none" stroke="#1E90FF" stroke-width="2" shape-rendering="crispEdges"/>
<line x1="1274" y1="376" x2="1322" y2="498" stroke="#4F9B2D" stroke-width="3"/>
<polygon points="1314,501.7 1330.4,495.1 1328.5,514.3" fill="#4F9B2D"/>
<g shape-rendering="crispEdges">
<rect x="1603" y="53" width="2" height="1" fill="#000"/>
<rect x="1603" y="86" width="2" height="1" fill="#000"/>
<rect x="1603" y="119" width="2" height="1" fill="#000"/>
<rect x="1603" y="152" width="2" height="1" fill="#000"/>
<rect x="1603" y="185" width="2" height="1" fill="#000"/>
<rect x="1603" y="218" width="2" height="1" fill="#000"/>
<rect x="1603" y="251" width="2" height="1" fill="#000"/>
<rect x="1603" y="284" width="2" height="1" fill="#000"/>
<rect x="1603" y="317" width="2" height="1" fill="#000"/>
<rect x="1603" y="350" width="2" height="1" fill="#000"/>
<rect x="1603" y="383" width="2" height="1" fill="#000"/>
<rect x="1603" y="449" width="2" height="1" fill="#000"/>
<rect x="1603" y="482" width="2" height="1" fill="#000"/>
<rect x="1603" y="548" width="2" height="1" fill="#000"/>
<rect x="1603" y="581" width="2" height="1" fill="#000"/>
<rect x="1603" y="614" width="2" height="1" fill="#000"/>
<rect x="1603" y="621" width="2" height="1" fill="#000"/>
<rect x="1603" y="666" width="2" height="1" fill="#000"/>
<rect x="1603" y="716" width="2" height="1" fill="#000"/>
<rect x="1603" y="721" width="2" height="1" fill="#000"/>
<rect x="1603" y="794" width="2" height="1" fill="#000"/>
<rect x="5" y="796" width="1" height="3" fill="#000"/>
<rect x="69" y="796" width="1" height="3" fill="#000"/>
<rect x="133" y="796" width="1" height="3" fill="#000"/>
<rect x="197" y="796" width="1" height="3" fill="#000"/>
<rect x="261" y="796" width="1" height="3" fill="#000"/>
<rect x="325" y="796" width="1" height="3" fill="#000"/>
<rect x="389" y="796" width="1" height="3" fill="#000"/>
<rect x="453" y="796" width="1" height="3" fill="#000"/>
<rect x="517" y="796" width="1" height="3" fill="#000"/>
<rect x="581" y="796" width="1" height="3" fill="#000"/>
<rect x="645" y="796" width="1" height="3" fill="#000"/>
<rect x="709" y="796" width="1" height="3" fill="#000"/>
<rect x="773" y="796" width="1" height="3" fill="#000"/>
<rect x="837" y="796" width="1" height="3" fill="#000"/>
<rect x="901" y="796" width="1" height="3" fill="#000"/>
<rect x="965" y="796" width="1" height="3" fill="#000"/>
<rect x="1029" y="796" width="1" height="3" fill="#000"/>
<rect x="1093" y="796" width="1" height="3" fill="#000"/>
<rect x="1157" y="796" width="1" height="3" fill="#000"/>
<rect x="1221" y="796" width="1" height="3" fill="#000"/>
<rect x="1603" y="416" width="2" height="1" fill="#000"/>
<rect x="1603" y="460" width="2" height="1" fill="#000"/>
<rect x="1603" y="496" width="2" height="1" fill="#000"/>
<rect x="1603" y="515" width="2" height="1" fill="#000"/>
<rect x="1603" y="562" width="2" height="1" fill="#000"/>
<rect x="1603" y="601" width="2" height="1" fill="#000"/>
</g>
<text x="1608" y="57" fill="#000" textLength="37.7" lengthAdjust="spacingAndGlyphs" stroke="#000" stroke-width="0.12" style="font-size:9.9px">4215.110</text>
<text x="1608" y="90" fill="#000" textLength="37.7" lengthAdjust="spacingAndGlyphs" stroke="#000" stroke-width="0.12" style="font-size:9.9px">4195.310</text>
<text x="1608" y="123" fill="#000" textLength="37.7" lengthAdjust="spacingAndGlyphs" stroke="#000" stroke-width="0.12" style="font-size:9.9px">4175.510</text>
<text x="1608" y="156" fill="#000" textLength="37.7" lengthAdjust="spacingAndGlyphs" stroke="#000" stroke-width="0.12" style="font-size:9.9px">4155.710</text>
<text x="1608" y="189" fill="#000" textLength="37.7" lengthAdjust="spacingAndGlyphs" stroke="#000" stroke-width="0.12" style="font-size:9.9px">4135.910</text>
<text x="1608" y="222" fill="#000" textLength="37.7" lengthAdjust="spacingAndGlyphs" stroke="#000" stroke-width="0.12" style="font-size:9.9px">4115.510</text>
<text x="1608" y="255" fill="#000" textLength="37.7" lengthAdjust="spacingAndGlyphs" stroke="#000" stroke-width="0.12" style="font-size:9.9px">4095.710</text>
<text x="1608" y="288" fill="#000" textLength="37.7" lengthAdjust="spacingAndGlyphs" stroke="#000" stroke-width="0.12" style="font-size:9.9px">4075.910</text>
<text x="1608" y="321" fill="#000" textLength="37.7" lengthAdjust="spacingAndGlyphs" stroke="#000" stroke-width="0.12" style="font-size:9.9px">4056.110</text>
<text x="1608" y="354" fill="#000" textLength="37.7" lengthAdjust="spacingAndGlyphs" stroke="#000" stroke-width="0.12" style="font-size:9.9px">4035.710</text>
<text x="1608" y="387" fill="#000" textLength="37.7" lengthAdjust="spacingAndGlyphs" stroke="#000" stroke-width="0.12" style="font-size:9.9px">4015.910</text>
<text x="1608" y="453" fill="#000" textLength="37.7" lengthAdjust="spacingAndGlyphs" stroke="#000" stroke-width="0.12" style="font-size:9.9px">3976.310</text>
<text x="1608" y="486" fill="#000" textLength="37.7" lengthAdjust="spacingAndGlyphs" stroke="#000" stroke-width="0.12" style="font-size:9.9px">3955.910</text>
<text x="1608" y="552" fill="#000" textLength="37.7" lengthAdjust="spacingAndGlyphs" stroke="#000" stroke-width="0.12" style="font-size:9.9px">3916.310</text>
<text x="1608" y="585" fill="#000" textLength="37.7" lengthAdjust="spacingAndGlyphs" stroke="#000" stroke-width="0.12" style="font-size:9.9px">3896.510</text>
<text x="1608" y="618" fill="#000" textLength="37.7" lengthAdjust="spacingAndGlyphs" stroke="#000" stroke-width="0.12" style="font-size:9.9px">3876.710</text>
<rect x="1604" y="411" width="46" height="11" fill="#FF0000" shape-rendering="crispEdges"/>
<text x="1608" y="420" fill="#fff" textLength="37.7" lengthAdjust="spacingAndGlyphs" stroke="#fff" stroke-width="0.12" style="font-size:9.9px">3995.553</text>
<rect x="1604" y="455" width="46" height="11" fill="#FF0000" shape-rendering="crispEdges"/>
<text x="1608" y="464" fill="#fff" textLength="37.7" lengthAdjust="spacingAndGlyphs" stroke="#fff" stroke-width="0.12" style="font-size:9.9px">3969.012</text>
<rect x="1604" y="491" width="46" height="11" fill="#FF8C00" shape-rendering="crispEdges"/>
<text x="1608" y="500" fill="#fff" textLength="37.7" lengthAdjust="spacingAndGlyphs" stroke="#fff" stroke-width="0.12" style="font-size:9.9px">3947.296</text>
<rect x="1604" y="510" width="46" height="11" fill="#000000" shape-rendering="crispEdges"/>
<text x="1608" y="519" fill="#fff" textLength="37.7" lengthAdjust="spacingAndGlyphs" stroke="#fff" stroke-width="0.12" style="font-size:9.9px">3936.050</text>
<rect x="1604" y="557" width="46" height="11" fill="#0000FF" shape-rendering="crispEdges"/>
<text x="1608" y="566" fill="#fff" textLength="37.7" lengthAdjust="spacingAndGlyphs" stroke="#fff" stroke-width="0.12" style="font-size:9.9px">3907.484</text>
<rect x="1604" y="596" width="46" height="11" fill="#0000FF" shape-rendering="crispEdges"/>
<text x="1608" y="605" fill="#fff" textLength="37.7" lengthAdjust="spacingAndGlyphs" stroke="#fff" stroke-width="0.12" style="font-size:9.9px">3883.958</text>
<text x="1606" y="630" fill="#000" textLength="32.7" lengthAdjust="spacingAndGlyphs" stroke="#000" stroke-width="0.12" style="font-size:9.9px">45.5719</text>
<text x="1606" y="670" fill="#000" textLength="17.7" lengthAdjust="spacingAndGlyphs" stroke="#000" stroke-width="0.12" style="font-size:9.9px">0.00</text>
<text x="1606" y="714" fill="#000" textLength="35.9" lengthAdjust="spacingAndGlyphs" stroke="#000" stroke-width="0.12" style="font-size:9.9px">-51.6334</text>
<text x="1606" y="729.5" fill="#000" textLength="15.0" lengthAdjust="spacingAndGlyphs" stroke="#000" stroke-width="0.12" style="font-size:9.9px">100</text>
<text x="1606" y="739" fill="#000" textLength="10.0" lengthAdjust="spacingAndGlyphs" stroke="#000" stroke-width="0.12" style="font-size:9.9px">80</text>
<text x="1606" y="760.5" fill="#000" textLength="10.0" lengthAdjust="spacingAndGlyphs" stroke="#000" stroke-width="0.12" style="font-size:9.9px">50</text>
<text x="1606" y="786.5" fill="#000" textLength="10.0" lengthAdjust="spacingAndGlyphs" stroke="#000" stroke-width="0.12" style="font-size:9.9px">15</text>
<text x="1606" y="792.5" fill="#000" textLength="5.0" lengthAdjust="spacingAndGlyphs" stroke="#000" stroke-width="0.12" style="font-size:9.9px">0</text>
<polygon points="8,29 15,29 11.5,33" fill="#000"/>
<text x="20" y="34" fill="#000" textLength="212.0" lengthAdjust="spacingAndGlyphs" stroke="#000" stroke-width="0.12" style="font-size:9.9px">SP500-,H4&#160; 3931.050 3938.750 3931.050 3936.050</text>
<text x="9" y="632" fill="#000" textLength="132.5" lengthAdjust="spacingAndGlyphs" stroke="#000" stroke-width="0.12" style="font-size:9.9px">MACD(12,26,9) 4.8255 30.7892</text>
<text x="9" y="732" fill="#000" textLength="68.0" lengthAdjust="spacingAndGlyphs" stroke="#000" stroke-width="0.12" style="font-size:9.9px">RSI(14) 33.6884</text>
<text x="4.5" y="808" fill="#000" textLength="52.5" lengthAdjust="spacingAndGlyphs" stroke="#000" stroke-width="0.12" style="font-size:9.9px">25 Aug 2022</text>
<text x="68.5" y="808" fill="#000" textLength="55.7" lengthAdjust="spacingAndGlyphs" stroke="#000" stroke-width="0.12" style="font-size:9.9px">26 Aug 08:00</text>
<text x="132.5" y="808" fill="#000" textLength="55.7" lengthAdjust="spacingAndGlyphs" stroke="#000" stroke-width="0.12" style="font-size:9.9px">29 Aug 00:00</text>
<text x="196.5" y="808" fill="#000" textLength="55.7" lengthAdjust="spacingAndGlyphs" stroke="#000" stroke-width="0.12" style="font-size:9.9px">29 Aug 16:00</text>
<text x="260.5" y="808" fill="#000" textLength="55.7" lengthAdjust="spacingAndGlyphs" stroke="#000" stroke-width="0.12" style="font-size:9.9px">30 Aug 08:00</text>
<text x="324.5" y="808" fill="#000" textLength="55.7" lengthAdjust="spacingAndGlyphs" stroke="#000" stroke-width="0.12" style="font-size:9.9px">31 Aug 00:00</text>
<text x="388.5" y="808" fill="#000" textLength="55.7" lengthAdjust="spacingAndGlyphs" stroke="#000" stroke-width="0.12" style="font-size:9.9px">31 Aug 16:00</text>
<text x="452.5" y="808" fill="#000" textLength="49.4" lengthAdjust="spacingAndGlyphs" stroke="#000" stroke-width="0.12" style="font-size:9.9px">1 Sep 08:00</text>
<text x="516.5" y="808" fill="#000" textLength="49.4" lengthAdjust="spacingAndGlyphs" stroke="#000" stroke-width="0.12" style="font-size:9.9px">2 Sep 00:00</text>
<text x="580.5" y="808" fill="#000" textLength="49.4" lengthAdjust="spacingAndGlyphs" stroke="#000" stroke-width="0.12" style="font-size:9.9px">2 Sep 16:00</text>
<text x="644.5" y="808" fill="#000" textLength="49.4" lengthAdjust="spacingAndGlyphs" stroke="#000" stroke-width="0.12" style="font-size:9.9px">5 Sep 08:00</text>
<text x="708.5" y="808" fill="#000" textLength="49.4" lengthAdjust="spacingAndGlyphs" stroke="#000" stroke-width="0.12" style="font-size:9.9px">6 Sep 00:00</text>
<text x="772.5" y="808" fill="#000" textLength="49.4" lengthAdjust="spacingAndGlyphs" stroke="#000" stroke-width="0.12" style="font-size:9.9px">6 Sep 16:00</text>
<text x="836.5" y="808" fill="#000" textLength="49.4" lengthAdjust="spacingAndGlyphs" stroke="#000" stroke-width="0.12" style="font-size:9.9px">7 Sep 08:00</text>
<text x="900.5" y="808" fill="#000" textLength="49.4" lengthAdjust="spacingAndGlyphs" stroke="#000" stroke-width="0.12" style="font-size:9.9px">8 Sep 00:00</text>
<text x="964.5" y="808" fill="#000" textLength="49.4" lengthAdjust="spacingAndGlyphs" stroke="#000" stroke-width="0.12" style="font-size:9.9px">8 Sep 16:00</text>
<text x="1028.5" y="808" fill="#000" textLength="49.4" lengthAdjust="spacingAndGlyphs" stroke="#000" stroke-width="0.12" style="font-size:9.9px">9 Sep 08:00</text>
<text x="1092.5" y="808" fill="#000" textLength="54.4" lengthAdjust="spacingAndGlyphs" stroke="#000" stroke-width="0.12" style="font-size:9.9px">12 Sep 00:00</text>
<text x="1156.5" y="808" fill="#000" textLength="54.4" lengthAdjust="spacingAndGlyphs" stroke="#000" stroke-width="0.12" style="font-size:9.9px">12 Sep 16:00</text>
<text x="1220.5" y="808" fill="#000" textLength="54.4" lengthAdjust="spacingAndGlyphs" stroke="#000" stroke-width="0.12" style="font-size:9.9px">13 Sep 08:00</text>
</svg></body></html>
